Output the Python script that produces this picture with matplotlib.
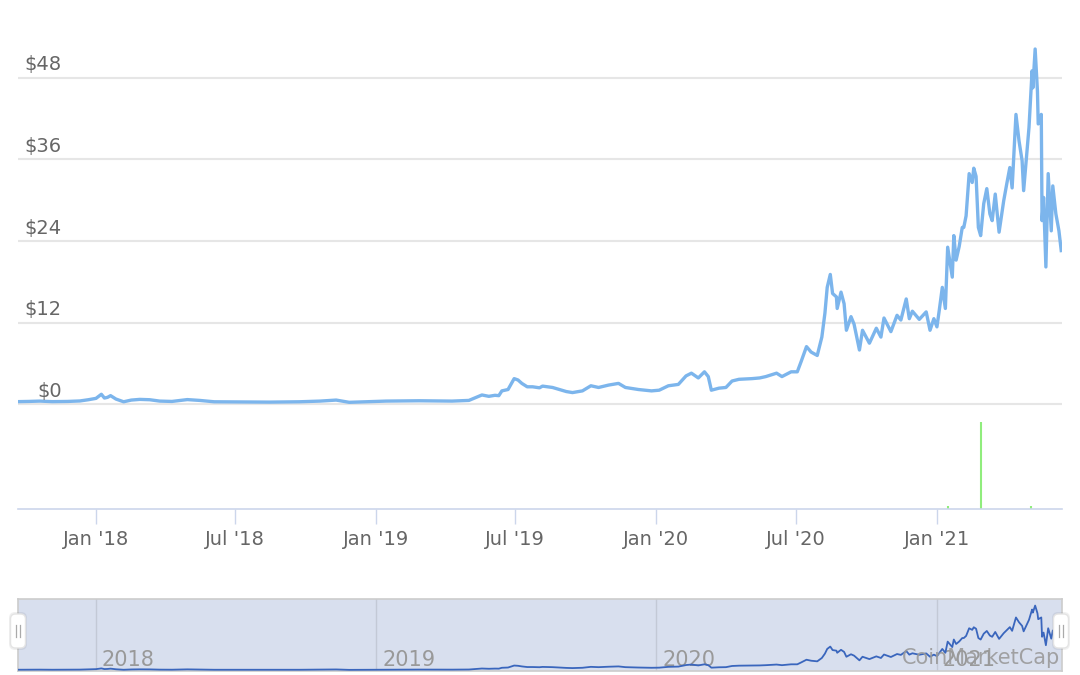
import numpy as np
import pandas as pd
import matplotlib
matplotlib.use("Agg")
import matplotlib.pyplot as plt
from matplotlib.patches import FancyBboxPatch
from matplotlib.lines import Line2D
from matplotlib.transforms import IdentityTransform

# ---------------- data ----------------
price_dates = [
    "2017-09-21", "2017-10-05", "2017-10-20", "2017-11-05", "2017-11-25", "2017-12-11",
    "2017-12-22", "2018-01-01", "2018-01-08", "2018-01-12", "2018-01-16", "2018-01-20",
    "2018-01-27", "2018-02-06", "2018-02-16", "2018-02-27", "2018-03-12", "2018-03-25",
    "2018-04-10", "2018-04-30", "2018-05-16", "2018-06-04", "2018-07-07", "2018-08-15",
    "2018-09-23", "2018-10-20", "2018-11-10", "2018-11-27", "2018-12-20", "2019-01-14",
    "2019-02-26", "2019-04-10", "2019-05-02", "2019-05-19", "2019-05-28", "2019-06-05",
    "2019-06-10", "2019-06-14", "2019-06-22", "2019-06-30", "2019-07-05", "2019-07-10",
    "2019-07-17", "2019-07-24", "2019-08-02", "2019-08-06", "2019-08-19", "2019-09-06",
    "2019-09-14", "2019-09-27", "2019-10-08", "2019-10-18", "2019-10-31", "2019-11-13",
    "2019-11-22", "2019-12-09", "2019-12-26", "2020-01-05", "2020-01-17", "2020-01-30",
    "2020-02-09", "2020-02-16", "2020-02-25", "2020-03-04", "2020-03-09", "2020-03-13",
    "2020-03-23", "2020-04-01", "2020-04-09", "2020-04-18", "2020-05-05", "2020-05-15",
    "2020-05-23", "2020-06-06", "2020-06-13", "2020-06-25", "2020-07-03", "2020-07-08",
    "2020-07-15", "2020-07-21", "2020-07-29", "2020-08-04", "2020-08-08", "2020-08-11",
    "2020-08-15", "2020-08-18", "2020-08-23", "2020-08-24", "2020-08-29", "2020-09-02",
    "2020-09-05", "2020-09-11", "2020-09-15", "2020-09-22", "2020-09-26", "2020-10-05",
    "2020-10-14", "2020-10-20", "2020-10-24", "2020-11-02", "2020-11-10", "2020-11-15",
    "2020-11-22", "2020-11-26", "2020-11-30", "2020-12-09", "2020-12-18", "2020-12-23",
    "2020-12-28", "2021-01-01", "2021-01-04", "2021-01-08", "2021-01-12", "2021-01-15",
    "2021-01-21", "2021-01-23", "2021-01-26", "2021-01-30", "2021-02-03", "2021-02-05",
    "2021-02-08", "2021-02-12", "2021-02-16", "2021-02-18", "2021-02-21", "2021-02-24",
    "2021-02-27", "2021-03-03", "2021-03-07", "2021-03-11", "2021-03-14", "2021-03-18",
    "2021-03-23", "2021-03-29", "2021-04-02", "2021-04-06", "2021-04-09", "2021-04-14",
    "2021-04-18", "2021-04-22", "2021-04-24", "2021-04-28", "2021-05-01", "2021-05-05",
    "2021-05-06", "2021-05-09", "2021-05-12", "2021-05-13", "2021-05-17", "2021-05-18",
    "2021-05-20", "2021-05-23", "2021-05-26", "2021-05-30", "2021-06-01", "2021-06-05",
    "2021-06-09", "2021-06-12",
]
price_values = [
    0.42, 0.45, 0.50, 0.42, 0.45, 0.52,
    0.70, 0.90, 1.50, 0.95, 1.05, 1.30,
    0.80, 0.40, 0.65, 0.75, 0.70, 0.50,
    0.45, 0.72, 0.60, 0.40, 0.38, 0.35,
    0.40, 0.50, 0.65, 0.32, 0.40, 0.50,
    0.55, 0.50, 0.60, 1.40, 1.20, 1.35,
    1.30, 2.00, 2.20, 3.80, 3.60, 3.10,
    2.60, 2.60, 2.45, 2.70, 2.50, 1.90,
    1.75, 2.00, 2.75, 2.50, 2.85, 3.10,
    2.50, 2.20, 2.00, 2.10, 2.75, 2.95,
    4.20, 4.60, 3.90, 4.80, 4.10, 2.10,
    2.40, 2.50, 3.45, 3.70, 3.80, 3.90,
    4.10, 4.60, 4.10, 4.80, 4.80, 6.30,
    8.50, 7.70, 7.20, 9.90, 13.4, 17.2,
    19.1, 16.3, 15.8, 14.1, 16.5, 14.8,
    10.9, 12.9, 11.8, 8.00, 10.9, 9.00,
    11.2, 9.90, 12.7, 10.7, 13.1, 12.4,
    15.5, 12.6, 13.7, 12.5, 13.6, 10.9,
    12.6, 11.4, 13.8, 17.2, 14.1, 23.1,
    18.7, 24.8, 21.2, 23.2, 26.0, 26.0,
    27.7, 33.9, 32.6, 34.7, 33.5, 26.0,
    24.8, 29.5, 31.7, 28.0, 27.0, 30.9,
    25.3, 29.9, 32.4, 34.8, 31.8, 42.6,
    38.7, 35.8, 31.4, 36.8, 40.7, 49.0,
    46.5, 52.2, 46.0, 41.2, 42.6, 27.0,
    30.4, 20.2, 33.9, 25.5, 32.1, 28.0,
    25.5, 22.6,
]
volume_dates = ["2021-01-15", "2021-02-27", "2021-05-04"]
volume_values = [0.08e9, 2.5e9, 0.08e9]

y_ticks = [0, 12, 24, 36, 48]
x_tick_dates = ["2018-01-01", "2018-07-01", "2019-01-01", "2019-07-01",
                "2020-01-01", "2020-07-01", "2021-01-01"]
x_tick_labels = ["Jan '18", "Jul '18", "Jan '19", "Jul '19",
                 "Jan '20", "Jul '20", "Jan '21"]
nav_year_dates = ["2018-01-01", "2019-01-01", "2020-01-01", "2021-01-01"]
nav_year_labels = ["2018", "2019", "2020", "2021"]

# ---------------- layout ----------------
W, H = 1080, 675
fig = plt.figure(figsize=(W / 100, H / 100), dpi=100)
fig.patch.set_facecolor("white")
plt.rcParams["font.family"] = ["DejaVu Sans"]


def axes_px(left, top, right, bottom):
    return fig.add_axes([left / W, 1 - bottom / H, (right - left) / W, (bottom - top) / H])


PX_PER_USD = 6.81
ZERO_PX = 404.5
y_lo, y_hi = -0.3, 58.0
LEFT, RIGHT = 18, 1062

ref = pd.Timestamp("2018-01-01")
xlim = (ref - pd.Timedelta(days=101.65), ref + pd.Timedelta(days=1259.0))

dates = pd.to_datetime(price_dates)

# price pane
ax = axes_px(LEFT, ZERO_PX - y_hi * PX_PER_USD, RIGHT, ZERO_PX - y_lo * PX_PER_USD)
ax.set_facecolor("none")
ax.plot(dates, price_values, color="#7cb5ec", lw=2.4, solid_joinstyle="round", zorder=3)
ax.set_xlim(*xlim)
ax.set_ylim(y_lo, y_hi)
ax.set_yticks(y_ticks)
ax.grid(axis="y", color="#e6e6e6", lw=1.5, zorder=0)
ax.tick_params(left=False, bottom=False, labelleft=False, labelbottom=False)
for s in ax.spines.values():
    s.set_visible(False)
for v in y_ticks:
    ax.annotate(f"${v}", xy=(0, v), xycoords=("axes fraction", "data"),
                xytext=(44 * 0.72, 13 * 0.72), textcoords="offset points",
                ha="right", va="center", fontsize=14, color="#666666", zorder=5)

# volume pane
axv = axes_px(LEFT, ZERO_PX, RIGHT, 509)
axv.set_facecolor("none")
axv.vlines(pd.to_datetime(volume_dates), 0, volume_values, color="#90ed7d", lw=1.5)
axv.set_xlim(*xlim)
axv.set_ylim(0, 3.0e9)
axv.set_yticks([])
for k, s in axv.spines.items():
    s.set_visible(k == "bottom")
axv.spines["bottom"].set_color("#ccd6eb")
axv.spines["bottom"].set_linewidth(1.2)
axv.set_xticks(pd.to_datetime(x_tick_dates))
axv.set_xticklabels(x_tick_labels)
axv.tick_params(axis="x", length=10.8, width=1, color="#ccd6eb",
                labelsize=14, labelcolor="#666666", pad=4)

# navigator
axn = axes_px(LEFT, 599, RIGHT, 671)
axn.set_facecolor("#d8dfee")
axn.plot(dates, price_values, color="#3a66bd", lw=1.3, zorder=3)
axn.set_xlim(*xlim)
axn.set_ylim(-0.6, 57.5)
axn.set_xticks([])
axn.set_yticks([])
for s in axn.spines.values():
    s.set_color("#cccccc")
    s.set_linewidth(1.2)
for d, lab in zip(pd.to_datetime(nav_year_dates), nav_year_labels):
    axn.axvline(d, color="#c3c9d6", lw=1, zorder=1)
    axn.annotate(lab, xy=(d, 0), xycoords=("data", "axes fraction"),
                 xytext=(6 * 0.72, 5 * 0.72), textcoords="offset points",
                 ha="left", va="baseline", fontsize=15, color="#999999", zorder=2)

# navigator handles
for cx in (LEFT, 1061):
    shadow = FancyBboxPatch((cx - 9, H - 650), 18, 38,
                            boxstyle="round,pad=0,rounding_size=6",
                            transform=IdentityTransform(), fc="#000000", ec="none",
                            alpha=0.06, zorder=9)
    fig.add_artist(shadow)
    hb = FancyBboxPatch((cx - 7.5, H - 648), 15, 34,
                        boxstyle="round,pad=0,rounding_size=5",
                        transform=IdentityTransform(), fc="white", ec="#e4e4e4",
                        lw=1, zorder=10)
    fig.add_artist(hb)
    for dx in (-1.6, 1.6):
        fig.add_artist(Line2D([cx + dx, cx + dx], [H - 637, H - 625],
                              transform=IdentityTransform(), color="#aaaaaa",
                              lw=0.9, zorder=11))

# watermark
fig.text(1060 / W, 1 - 664 / H, "CoinMarketCap", ha="right", va="baseline",
         fontsize=15, color="#9a9a9a", alpha=0.9, zorder=12)

fig.savefig("out.png", dpi=100)
